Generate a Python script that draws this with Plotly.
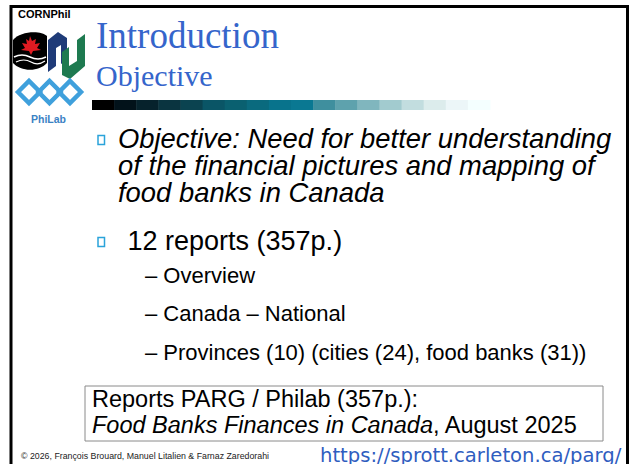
import plotly.graph_objects as go

W, H = 629, 464

# ---- slide content (text data) ----
header_small = "CORNPhil"
title_main = "Introduction"
title_sub = "Objective"
objective_lines = [
    "Objective: Need for better understanding",
    "of the financial pictures and mapping of",
    "food banks in Canada",
]
reports_line = " 12 reports (357p.)"
sub_items = [
    "– Overview",
    "– Canada – National",
    "– Provinces (10) (cities (24), food banks (31))",
]
box_line1 = "Reports PARG / Philab (357p.):"
box_line2 = "<i>Food Banks Finances in Canada</i>, August 2025"
footer_left = "© 2026, François Brouard, Manuel Litalien & Farnaz Zaredorahi"
footer_url = "https://sprott.carleton.ca/parg/"
logo_text = "PhiLab"

# gradient bar colours (left to right)
bar_colors = ["#000000", "#02121a", "#06222c", "#0a3440", "#0b4350", "#0a5566",
              "#0a6070", "#0a6a7e", "#08738c", "#0a7892", "#3f8f9e", "#5ea2ad",
              "#80b6be", "#a2cbcf", "#c2dddf", "#dcecec", "#ecf6f8", "#f4ffff"]

TITLE_BLUE = "#3565CB"
BULLET = "#2AA3DA"
SANS = "Liberation Sans, Arial, sans-serif"
SERIF = "Liberation Serif, Times New Roman, serif"

fig = go.Figure()
shapes = []
ann = []

def text(x, y, s, size, color="#000", family=SANS, anchor="left", **kw):
    ann.append(dict(x=x, y=y, xref="x", yref="y", text=s, showarrow=False,
                    xanchor=anchor, yanchor="middle",
                    font=dict(size=size, color=color, family=family), **kw))

# slide frame
shapes.append(dict(type="rect", x0=11, y0=6.5, x1=627.5, y1=480,
                   line=dict(color="black", width=3), fillcolor="rgba(0,0,0,0)"))

# logos (approximate)
shapes.append(dict(type="path", path="M13,40 C20,31 41,30 47,36 L47,63 C39,72 21,72 13,63 Z",
                   fillcolor="black", line=dict(width=0)))
shapes.append(dict(type="path",
                   path="M30,36 L32,41 L36,39 L35,44 L40,43 L37,48 L41,50 L33,51 L31,55 L29,51 L21,50 L25,48 L22,43 L27,44 L26,39 L29,41 Z",
                   fillcolor="#e11b22", line=dict(width=0)))
shapes.append(dict(type="path", path="M14,57 Q22,53 30,57 T46,57",
                   line=dict(color="white", width=1.5)))
shapes.append(dict(type="path", path="M16,62 Q24,58 31,62 T45,61",
                   line=dict(color="white", width=1.2)))
shapes.append(dict(type="path", path="M48,72 L48,40 L58,32 L67,38 L67,60 L61,64 L61,45 L56,48 L56,66 Z",
                   fillcolor="#1f3b78", line=dict(width=0)))
shapes.append(dict(type="path", path="M62,75 L62,52 L69,47 L69,66 L77,61 L77,40 L85,34 L85,66 L70,79 Z",
                   fillcolor="#1e7a50", line=dict(width=0)))
for cx in (29, 49.5, 70):
    shapes.append(dict(type="path",
                       path=f"M{cx-11},92 L{cx},81 L{cx+11},92 L{cx},103 Z",
                       line=dict(color="#3fa0dc", width=4.5)))
text(48, 119, f"<b>{logo_text}</b>", 10.5, color="#3b82c4", anchor="center")
text(16, 14, f"<b>{header_small}</b>", 11)

# titles
text(94, 35, title_main, 37, color=TITLE_BLUE, family=SERIF)
text(94, 75, title_sub, 30, color=TITLE_BLUE, family=SERIF)

# gradient bar
x0, x1 = 92, 490
n = len(bar_colors)
step = (x1 - x0) / n
for i, c in enumerate(bar_colors):
    shapes.append(dict(type="rect", x0=x0 + i * step, x1=x0 + (i + 1) * step + 0.5,
                       y0=100, y1=110, fillcolor=c, line=dict(width=0)))

# bullets
for by in (140, 242):
    shapes.append(dict(type="rect", x0=98, x1=104.5, y0=by - 4.5, y1=by + 4.5,
                       line=dict(color=BULLET, width=1.5), fillcolor="white"))

# objective lines
for i, s in enumerate(objective_lines):
    text(116, 138.5 + 27 * i, f"<i>{s}</i>", 27.4)

text(118, 240.5, reports_line, 27)
for i, s in enumerate(sub_items):
    text(143, 275 + 38.5 * i, s, 22)

# box
shapes.append(dict(type="rect", x0=85, x1=603, y0=386, y1=441,
                   line=dict(color="#8a8a8a", width=1), fillcolor="white"))
text(90, 399, box_line1, 23.5)
text(90, 425, box_line2, 23.5)

# footer
text(19, 456, footer_left, 8.8, color="#222")
text(318, 455, footer_url, 19.6, color="#2F5DBF", family="DejaVu Sans, sans-serif")

fig.update_layout(
    width=W, height=H, margin=dict(l=0, r=0, t=0, b=0),
    paper_bgcolor="white", plot_bgcolor="white",
    xaxis=dict(range=[0, W], visible=False, fixedrange=True),
    yaxis=dict(range=[H, 0], visible=False, fixedrange=True),
    shapes=shapes, annotations=ann, showlegend=False,
)
fig.write_html("out.html", config={"displayModeBar": False},
               post_script="document.body.style.margin='0';document.body.style.overflow='hidden';")
